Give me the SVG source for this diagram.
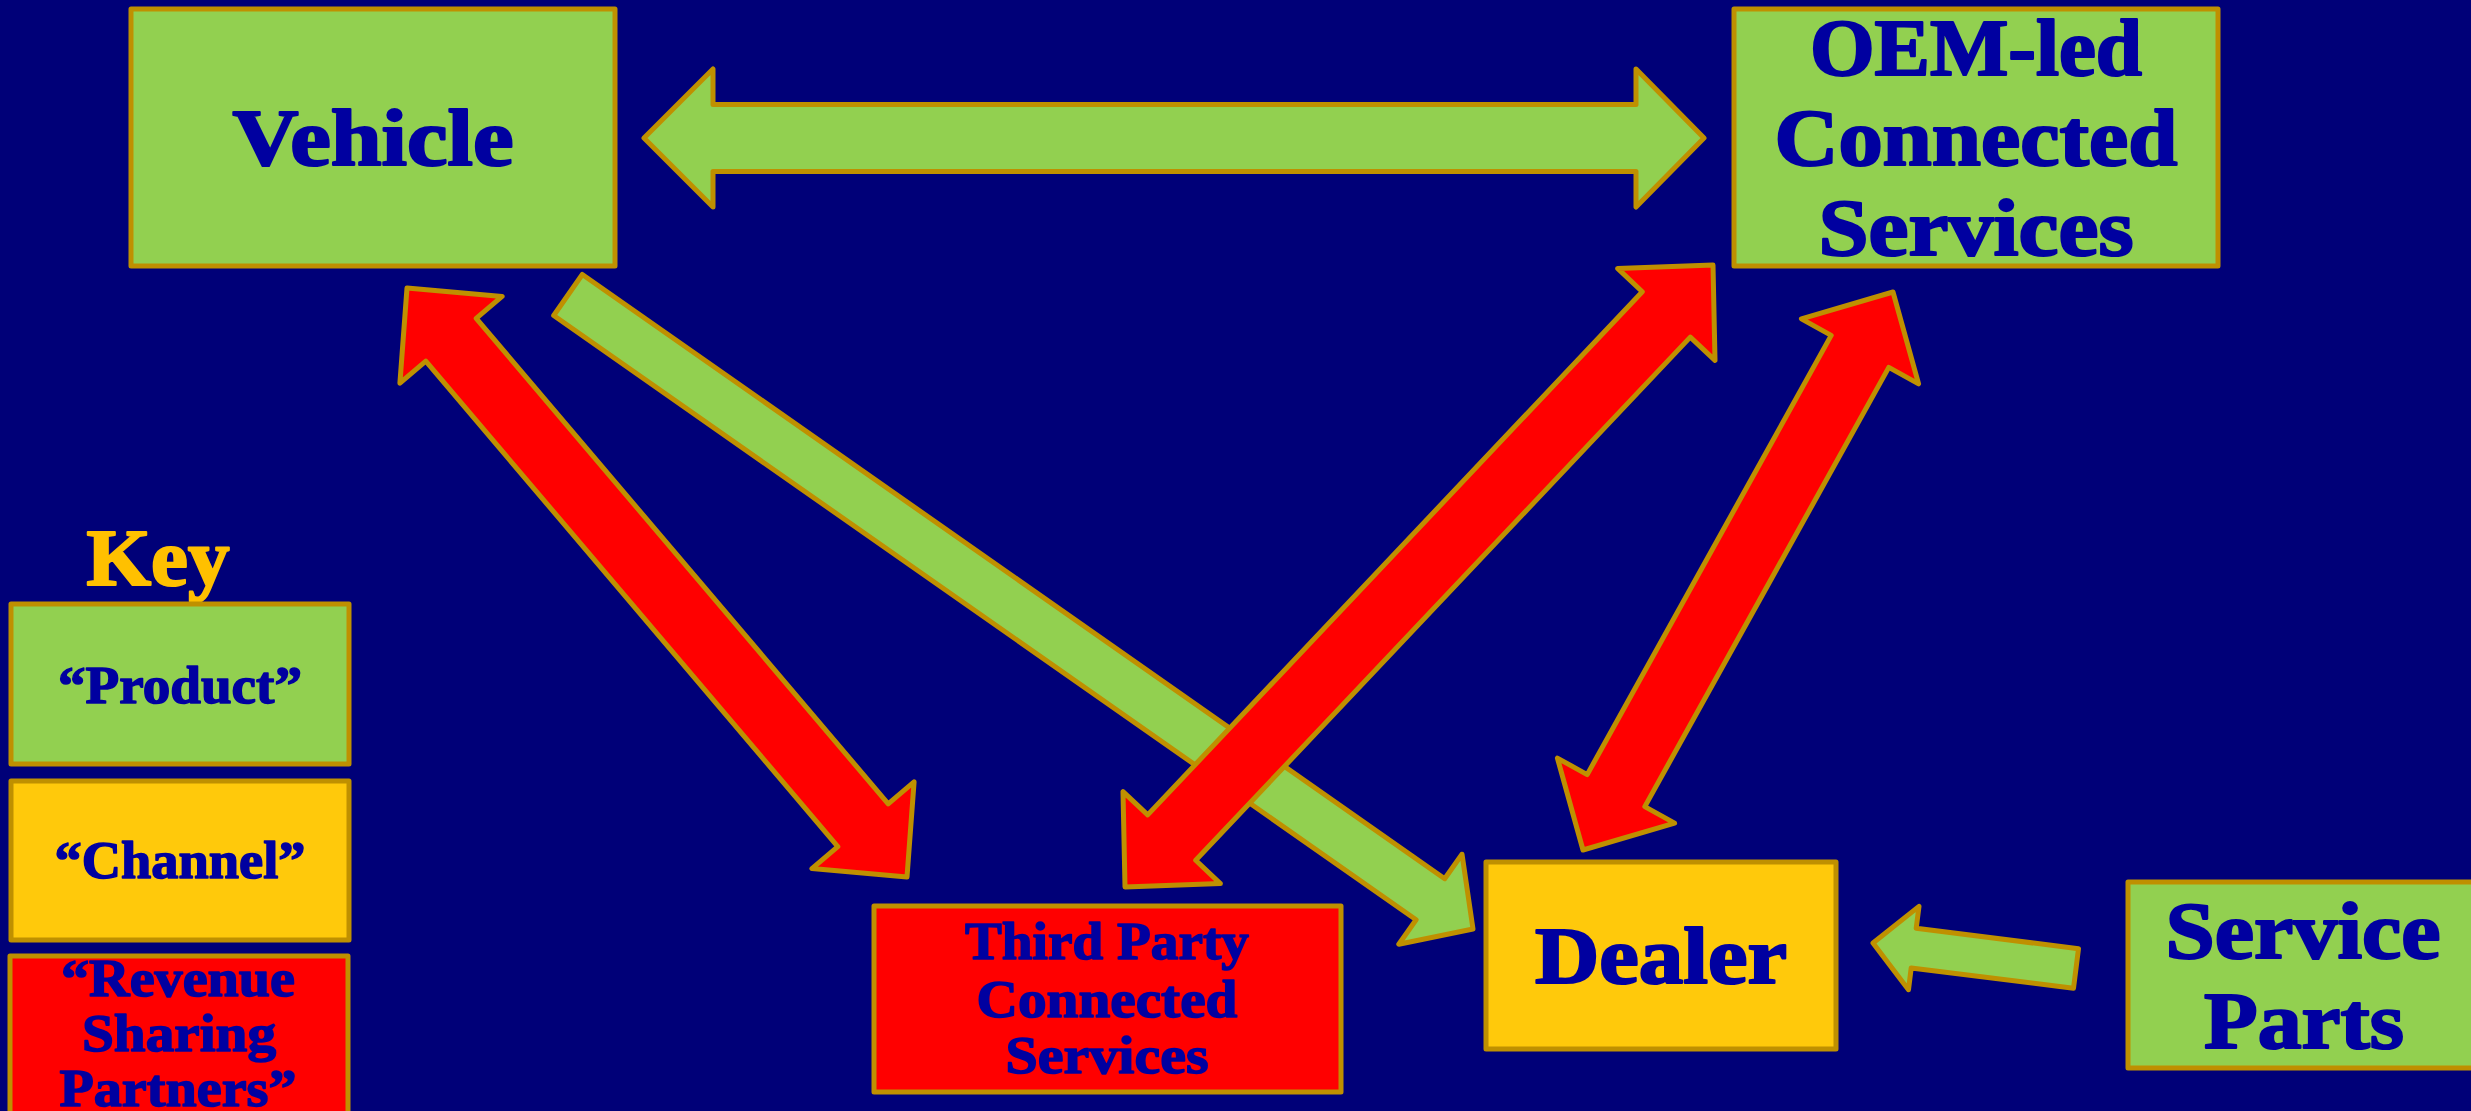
<svg xmlns="http://www.w3.org/2000/svg" width="2471" height="1111" viewBox="0 0 2471 1111">
  <style>
    .box { stroke: #BF9000; stroke-width: 5; stroke-linejoin: round; }
    .green { fill: #92D050; }
    .gold { fill: #FFC90B; }
    .red { fill: #FF0000; }
    .arrow { stroke: #BF9000; stroke-width: 5; stroke-linejoin: round; }
    text { font-family: "Liberation Serif", "Times New Roman", serif; font-weight: bold; fill: #0000A0; stroke: #0000A0; text-anchor: middle; stroke-linejoin: round; }
    .big { font-size: 80px; stroke-width: 2.2px; }
    .mid { font-size: 53px; stroke-width: 1.5px; }
    .key { fill: #FFC000; stroke: #FFC000; }
  </style>

  <rect x="0" y="0" width="2471" height="1111" fill="#000078"/>

  <!-- connectors -->
  <g id="connectors">
    <!-- Vehicle <-> OEM-led Connected Services -->
    <polygon class="arrow green" points="644,138 713,69 713,104.5 1636,104.5 1636,69 1704,138 1636,207 1636,171.5 713,171.5 713,207"/>
    <!-- Vehicle -> Dealer -->
    <polygon class="arrow green" points="1473,929 1462,854.2 1444.7,878.7 582.3,274.5 553.7,315.5 1416.1,919.7 1398.8,944.2"/>
    <!-- Service Parts -> Dealer -->
    <polygon class="arrow green" points="1873,943 1919,906.4 1916.2,928.3 2078.5,948.7 2073.5,988.3 1911.2,967.9 1908.5,989.8"/>
    <!-- Vehicle <-> Third Party Connected Services -->
    <polygon class="arrow red" points="407,288 399.9,383.2 425.8,361.2 837.8,846.6 811.9,868.6 907,877 914.1,781.8 888.2,803.8 476.2,318.4 502.1,296.4"/>
    <!-- OEM-led Connected Services <-> Third Party Connected Services -->
    <polygon class="arrow red" points="1713,265 1617.6,268.4 1642.3,291.7 1147.7,814.9 1123,791.6 1125,887 1220.4,883.6 1195.7,860.3 1690.3,337.1 1715,360.4"/>
    <!-- OEM-led Connected Services <-> Dealer -->
    <polygon class="arrow red" points="1893,292 1801.4,318.9 1831.2,335.4 1587.2,774.6 1557.4,758.1 1583,850 1674.6,823.1 1644.8,806.6 1888.8,367.4 1918.6,383.9"/>
  </g>

  <g id="vehicle">
    <rect class="box green" x="131" y="9" width="484" height="257"/>
    <text class="big" x="373" y="165" textLength="281" lengthAdjust="spacingAndGlyphs">Vehicle</text>
  </g>

  <g id="oem-services">
    <rect class="box green" x="1734" y="9" width="484" height="257"/>
    <text class="big" x="1976" y="75" textLength="332" lengthAdjust="spacingAndGlyphs">OEM-led</text>
    <text class="big" x="1976" y="165" textLength="403" lengthAdjust="spacingAndGlyphs">Connected</text>
    <text class="big" x="1976" y="255" textLength="315" lengthAdjust="spacingAndGlyphs">Services</text>
  </g>

  <g id="third-party">
    <rect class="box red" x="874" y="906" width="467" height="186"/>
    <text class="mid" x="1107" y="959" textLength="284" lengthAdjust="spacingAndGlyphs">Third Party</text>
    <text class="mid" x="1107" y="1017" textLength="261" lengthAdjust="spacingAndGlyphs">Connected</text>
    <text class="mid" x="1107" y="1073" textLength="203" lengthAdjust="spacingAndGlyphs">Services</text>
  </g>

  <g id="dealer">
    <rect class="box gold" x="1486" y="862" width="350" height="187"/>
    <text class="big" x="1661" y="983" textLength="252" lengthAdjust="spacingAndGlyphs">Dealer</text>
  </g>

  <g id="service-parts">
    <rect class="box green" x="2128" y="882" width="360" height="186"/>
    <text class="big" x="2303" y="958" textLength="275" lengthAdjust="spacingAndGlyphs">Service</text>
    <text class="big" x="2304" y="1048" textLength="200" lengthAdjust="spacingAndGlyphs">Parts</text>
  </g>

  <!-- legend -->
  <g id="key">
    <text class="big key" x="158" y="585" textLength="143" lengthAdjust="spacingAndGlyphs">Key</text>
    <g id="key-product">
      <rect class="box green" x="11" y="604" width="338" height="160"/>
      <text class="mid" x="180" y="703" textLength="244" lengthAdjust="spacingAndGlyphs">“Product”</text>
    </g>
    <g id="key-channel">
      <rect class="box gold" x="11" y="781" width="338" height="159"/>
      <text class="mid" x="180" y="878" textLength="251" lengthAdjust="spacingAndGlyphs">“Channel”</text>
    </g>
    <g id="key-revenue">
      <rect class="box red" x="10" y="956" width="338" height="170"/>
      <text class="mid" x="178" y="996" textLength="234" lengthAdjust="spacingAndGlyphs">“Revenue</text>
      <text class="mid" x="179" y="1051" textLength="194" lengthAdjust="spacingAndGlyphs">Sharing</text>
      <text class="mid" x="178" y="1106" textLength="237" lengthAdjust="spacingAndGlyphs">Partners”</text>
    </g>
  </g>
</svg>
